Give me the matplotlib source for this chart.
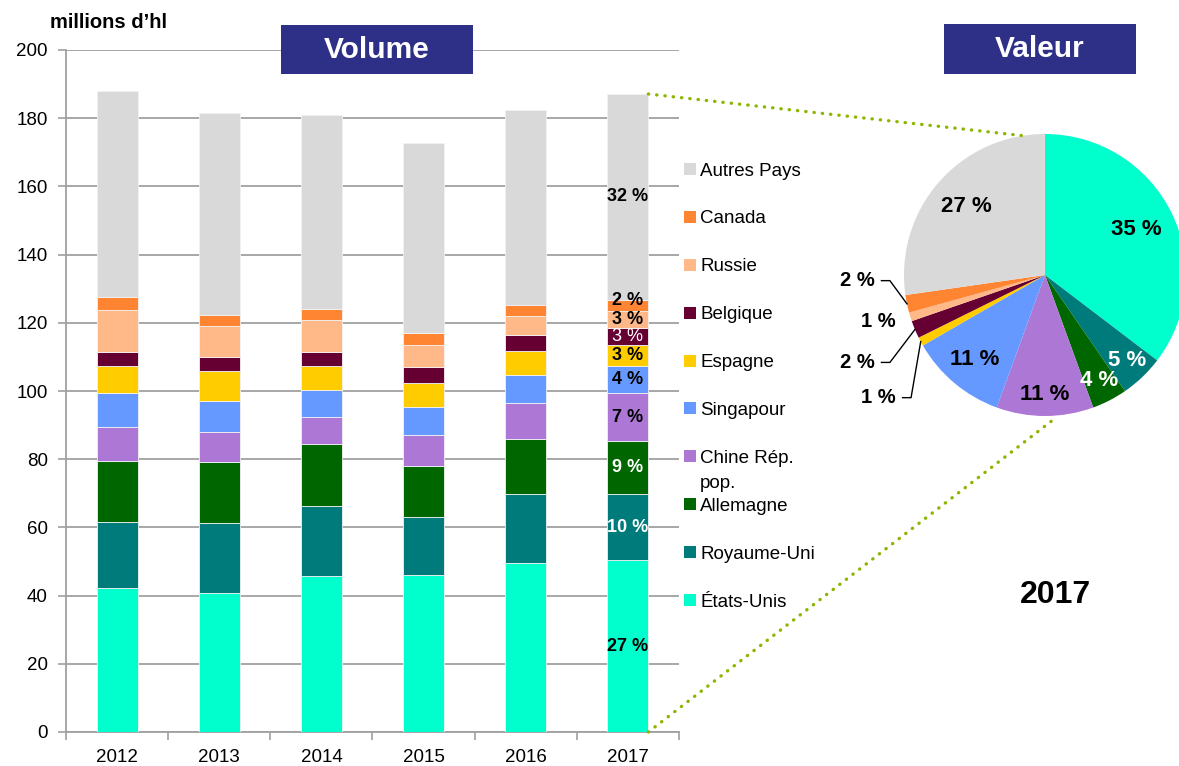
import numpy as np
import matplotlib
matplotlib.use('Agg')
import matplotlib.pyplot as plt
from matplotlib.patches import Rectangle, ConnectionPatch

plt.rcParams['font.family'] = ['Liberation Sans', 'DejaVu Sans']

years = ['2012', '2013', '2014', '2015', '2016', '2017']
# volumes en millions d'hl, du bas vers le haut de la barre
etats_unis = [42.2, 40.8, 45.7, 45.9, 49.7, 50.3]
royaume_uni = [19.3, 20.4, 20.6, 17.1, 20.0, 19.4]
allemagne = [18.1, 18.0, 18.2, 15.1, 16.2, 15.7]
chine = [9.8, 8.7, 7.8, 8.9, 10.5, 13.9]
singapour = [9.9, 9.2, 8.0, 8.2, 8.4, 7.9]
espagne = [8.1, 8.9, 7.1, 7.1, 7.0, 6.4]
belgique = [4.1, 4.1, 4.1, 4.8, 4.5, 4.9]
russie = [12.3, 9.0, 9.3, 6.4, 5.7, 5.1]
canada = [3.7, 3.2, 3.2, 3.6, 3.2, 3.2]
autres = [60.5, 59.3, 56.9, 55.7, 57.2, 60.3]

pays = ['États-Unis', 'Royaume-Uni', 'Allemagne', 'Chine Rép.\npop.', 'Singapour',
        'Espagne', 'Belgique', 'Russie', 'Canada', 'Autres Pays']
couleurs = ['#00FFCC', '#007B7B', '#006600', '#AD77D6', '#6699FF',
            '#FFCC00', '#660033', '#FFB888', '#FF8533', '#D9D9D9']

# parts en volume 2017 (texte sur la derniere barre)
parts_2017 = ['27 %', '10 %', '9 %', '7 %', '4 %', '3 %', '3 %', '3 %', '2 %', '32 %']
parts_col = ['black', 'white', 'white', 'black', 'black', 'black', 'white', 'black', 'black', 'black']
parts_w = ['bold'] * 6 + ['normal'] + ['bold'] * 3

# parts en valeur 2017 (camembert)
valeur_2017 = [35, 5, 4, 11, 11, 1, 2, 1, 2, 27]
valeur_col = ['black', 'white', 'white', 'black', 'black', 'black', 'black', 'black', 'black', 'black']

series = [etats_unis, royaume_uni, allemagne, chine, singapour,
          espagne, belgique, russie, canada, autres]

W, H = 1179, 766
fig = plt.figure(figsize=(W / 100, H / 100), dpi=100)


def px(x0, y0, x1, y1):
    # rectangle en pixels (origine en haut a gauche) -> coordonnees figure
    return [x0 / W, 1 - y1 / H, (x1 - x0) / W, (y1 - y0) / H]


ax = fig.add_axes(px(66, 50, 679, 732))
x = np.arange(len(years))
bottom = np.zeros(len(years))
for vals, col in zip(series, couleurs):
    ax.bar(x, vals, 0.4, bottom=bottom, color=col, edgecolor='#F2F2F2', linewidth=0.6, zorder=3)
    bottom += np.array(vals)

# etiquettes de la barre 2017 (le 2 % du Canada est un peu remonte)
decalage = {8: 1.3}
b = 0
for i, (vals, lab, c, w) in enumerate(zip(series, parts_2017, parts_col, parts_w)):
    v = vals[-1]
    ax.text(x[-1], b + v / 2 + decalage.get(i, 0), lab, ha='center', va='center', color=c,
            fontsize=13, fontweight=w, zorder=4)
    b += v

ax.set_xlim(-0.5, 5.5)
ax.set_ylim(0, 200)
ax.set_yticks(range(0, 201, 20))
ax.set_xticks(x)
ax.set_xticklabels(years)
ax.set_xticks(np.arange(-0.5, 6, 1), minor=True)
ax.tick_params(axis='x', which='major', length=0, pad=12, labelsize=13.5)
ax.tick_params(axis='x', which='minor', length=6, color='#A0A0A0', width=1.2)
ax.tick_params(axis='y', length=6, color='#A0A0A0', width=1.2, pad=7, labelsize=13.5)
ax.yaxis.grid(True, color='#A0A0A0', linewidth=1.3, zorder=0)
ax.set_axisbelow(True)
for s in ['top', 'right']:
    ax.spines[s].set_visible(False)
for s in ['left', 'bottom']:
    ax.spines[s].set_color('#A0A0A0')
    ax.spines[s].set_linewidth(1.3)

fig.text(50 / W, 1 - 22 / H, 'millions d\u2019hl', fontsize=14.5, fontweight='bold',
         ha='left', va='center')

# legende faite a la main
for i, (nom, col) in enumerate(zip(pays[::-1], couleurs[::-1])):
    yc = 169 + 47.9 * i
    fig.patches.append(Rectangle((684 / W, 1 - (yc + 6) / H), 12 / W, 12 / H,
                                 transform=fig.transFigure, facecolor=col, edgecolor='none'))
    for k, ligne in enumerate(nom.split('\n')):
        fig.text(700 / W, 1 - (yc + 6.5 + 25 * k) / H, ligne, fontsize=13.5,
                 ha='left', va='baseline')

# titres encadres
for (x0, y0, x1, y1), titre in [((281, 25, 473, 74), 'Volume'), ((944, 24, 1136, 74), 'Valeur')]:
    r = px(x0, y0, x1, y1)
    fig.patches.append(Rectangle((r[0], r[1]), r[2], r[3], transform=fig.transFigure,
                                 facecolor='#2E3087', edgecolor='none', zorder=5))
    fig.text(r[0] + r[2] / 2, r[1] + r[3] / 2, titre, color='white', fontsize=21.5,
             fontweight='bold', ha='center', va='center', zorder=6)

# camembert valeur 2017
cx, cy, rad = 1045, 275, 141
pax = fig.add_axes(px(cx - rad, cy - rad, cx + rad, cy + rad))
wedges, _ = pax.pie(valeur_2017, colors=couleurs, startangle=90, counterclock=False,
                    radius=1, wedgeprops=dict(linewidth=0))
pax.set_xlim(-1, 1)
pax.set_ylim(-1, 1)
pax.set_axis_off()

lab_r = [0.72, 0.84, 0.84, 0.85, 0.78, None, None, None, None, 0.74]
petits = {8: (-1.33, -0.04), 7: (-1.18, -0.33), 6: (-1.33, -0.62), 5: (-1.18, -0.87)}
avec_trait = [8, 6, 5]
for i, (wdg, v) in enumerate(zip(wedges, valeur_2017)):
    a = np.deg2rad((wdg.theta1 + wdg.theta2) / 2)
    if lab_r[i] is not None:
        pax.text(lab_r[i] * np.cos(a), lab_r[i] * np.sin(a), f'{v} %', ha='center', va='center',
                 color=valeur_col[i], fontsize=16, fontweight='bold')
    else:
        tx, ty = petits[i]
        pax.text(tx, ty, f'{v} %', ha='center', va='center', color='black',
                 fontsize=14.5, fontweight='bold', clip_on=False)
        if i in avec_trait:
            pax.plot([tx + 0.17, tx + 0.23, np.cos(a)], [ty, ty, np.sin(a)],
                     color='black', linewidth=1, clip_on=False)

fig.text(1055 / W, 1 - 595 / H, '2017', fontsize=23, fontweight='bold', ha='center', va='center')

# liaisons pointillees entre la barre 2017 et le camembert
total_2017 = sum(s[-1] for s in series)
for (xa, ya), (xb, yb) in [((x[-1] + 0.2, total_2017), (-0.13, 0.985)),
                           ((x[-1] + 0.2, 0), (0.08, -1.01))]:
    con = ConnectionPatch(xyA=(xa, ya), coordsA=ax.transData, xyB=(xb, yb), coordsB=pax.transData,
                          color='#8DB600', linewidth=2.4, linestyle=(0, (0.1, 2.4)),
                          capstyle='round', zorder=10)
    fig.add_artist(con)

fig.savefig('out.png', dpi=100)
